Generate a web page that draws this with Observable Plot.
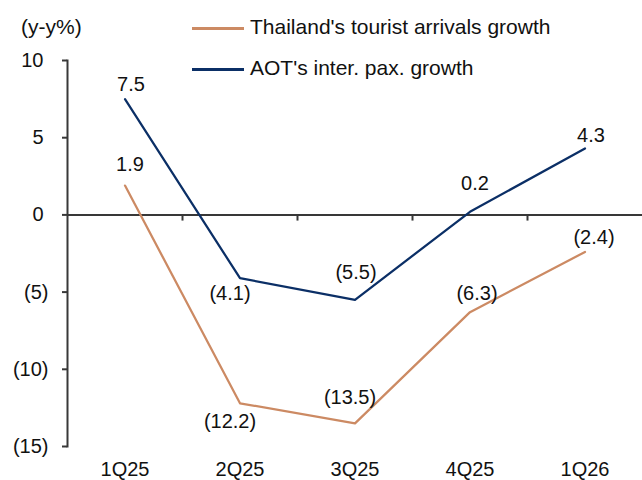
<!DOCTYPE html>
<html>
<head>
<meta charset="utf-8">
<script src="https://cdn.jsdelivr.net/npm/d3@7"></script>
<script src="https://cdn.jsdelivr.net/npm/@observablehq/plot@0.6"></script>
<style>
  body { margin: 0; background: #fff; }
  #wrap { position: relative; width: 642px; height: 480px; font-family: "Liberation Sans", Arial, sans-serif; color: #111; }
  .lg { position: absolute; font-size: 21px; line-height: 24px; white-space: nowrap; }
  .sw { position: absolute; height: 3px; width: 52px; }
</style>
</head>
<body>
<div id="wrap"></div>
<script>
// ---- data ----
const quarters = ["1Q25", "2Q25", "3Q25", "4Q25", "1Q26"];
const thaiGrowth = [1.9, -12.2, -13.5, -6.3, -2.4];
const aotGrowth = [7.5, -4.1, -5.5, 0.2, 4.3];
const seriesNames = ["Thailand's tourist arrivals growth", "AOT's inter. pax. growth"];
const yTicksNeg = [-15, -10, -5];
const yTicksPos = [0, 5, 10];
const unitLabel = "(y-y%)";

// ---- style ----
const cThai = "#CC8A63";
const cAot = "#0B2F66";
const cAxis = "#383838";
const font = "Liberation Sans, Arial, sans-serif";
const fs = 20;
// label offsets (pixels) per point, mimicking the reference placement
const thaiLabelOff = [[5, -21], [-10, 18], [-5, -26], [7, -19], [9, -14]];
const aotLabelOff = [[6, -15], [-10, 15], [1, -27], [5, -28], [6, -13]];

const fmt = v => v < 0 ? `(${d3.format(".1f")(-v)})` : d3.format(".1f")(v);
const fmtTick = v => v < 0 ? `(${-v})` : `${v}`;

const rows = quarters.map((q, i) => ({ i, q, thai: thaiGrowth[i], aot: aotGrowth[i] }));
const boundaries = quarters.slice(1).map((q, i) => i + 0.5);

const labelMarks = [];
rows.forEach((r, k) => {
  labelMarks.push(Plot.text([r], { x: "i", y: "thai", text: d => fmt(d.thai), dx: thaiLabelOff[k][0], dy: thaiLabelOff[k][1], fontSize: fs, fill: "#111" }));
  labelMarks.push(Plot.text([r], { x: "i", y: "aot", text: d => fmt(d.aot), dx: aotLabelOff[k][0], dy: aotLabelOff[k][1], fontSize: fs, fill: "#111" }));
});

const chart = Plot.plot({
  width: 642,
  height: 480,
  marginLeft: 67,
  marginRight: 0,
  marginTop: 60,
  marginBottom: 34,
  style: { fontFamily: font, fontSize: fs + "px", color: "#111", background: "transparent", overflow: "visible" },
  x: { domain: [-0.5, quarters.length - 0.5], axis: null },
  y: { domain: [-15, 10], axis: null },
  marks: [
    Plot.axisY(yTicksNeg, { tickSize: 5, tickPadding: 14, tickFormat: fmtTick, fontSize: fs, stroke: cAxis, strokeWidth: 2, label: null }),
    Plot.axisY(yTicksPos, { tickSize: 5, tickPadding: 19, tickFormat: fmtTick, fontSize: fs, stroke: cAxis, strokeWidth: 2, label: null }),
    Plot.axisX(quarters.map((q, i) => i), { tickSize: 0, tickPadding: 15, tickFormat: i => quarters[i], fontSize: fs, label: null }),
    Plot.frame({ anchor: "left", stroke: cAxis, strokeWidth: 2 }),
    Plot.ruleY([0], { stroke: cAxis, strokeWidth: 2 }),
    Plot.ruleX(boundaries, { y1: 0, y2: -0.4, stroke: cAxis, strokeWidth: 2 }),
    Plot.line(rows, { x: "i", y: "thai", stroke: cThai, strokeWidth: 2.25 }),
    Plot.line(rows, { x: "i", y: "aot", stroke: cAot, strokeWidth: 2.25 }),
    ...labelMarks
  ]
});

const wrap = document.getElementById("wrap");
wrap.appendChild(chart);
chart.style.position = "absolute";
chart.style.left = "0";
chart.style.top = "0";

function addText(txt, left, centerY) {
  const d = document.createElement("div");
  d.className = "lg";
  d.textContent = txt;
  d.style.left = left + "px";
  d.style.top = (centerY - 12) + "px";
  wrap.appendChild(d);
}
function addSwatch(color, left, centerY) {
  const s = document.createElement("div");
  s.className = "sw";
  s.style.background = color;
  s.style.left = left + "px";
  s.style.top = (centerY - 1.5) + "px";
  wrap.appendChild(s);
}
addText(unitLabel, 21, 27);
addSwatch(cThai, 192, 28);
addText(seriesNames[0], 250, 27);
addSwatch(cAot, 192, 69);
addText(seriesNames[1], 250, 68);
</script>
</body>
</html>
